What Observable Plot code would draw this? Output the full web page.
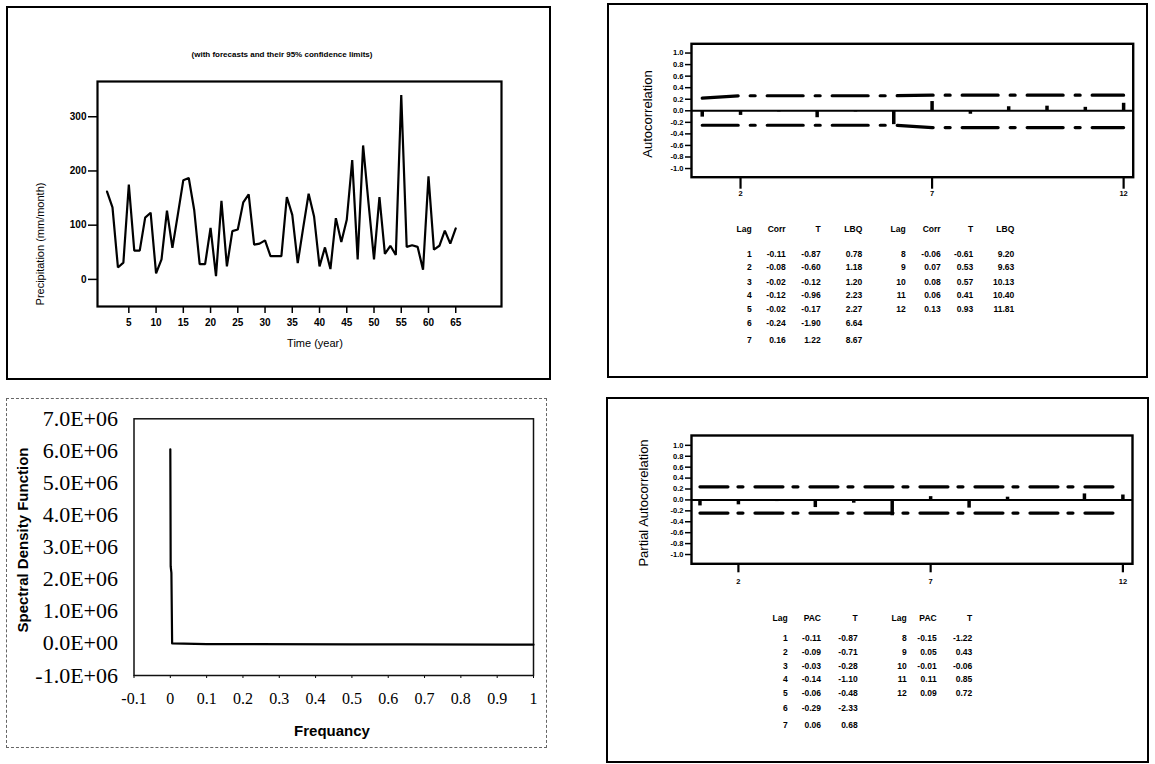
<!DOCTYPE html>
<html><head><meta charset="utf-8">
<script src="https://cdn.jsdelivr.net/npm/d3@7"></script>
<script src="https://cdn.jsdelivr.net/npm/@observablehq/plot@0.6"></script>
<style>
body{margin:0;background:#fff;}
#root{position:relative;width:1155px;height:764px;overflow:hidden;background:#fff;font-family:"Liberation Sans",Arial,sans-serif;}
.box{position:absolute;box-sizing:border-box;}
</style></head><body><div id="root"></div>
<script>
// ---------- data ----------
const years = d3.range(1, 66);
const precipitation = [162,133,22,31,175,53,53,114,123,11,37,127,58,120,183,187,128,28,28,95,6,145,24,89,92,142,157,64,66,72,43,43,43,152,119,30,95,158,116,24,59,19,113,69,110,220,37,247,140,37,152,47,62,45,340,60,63,60,18,190,55,62,90,66,94];
const timeTicks = [5,10,15,20,25,30,35,40,45,50,55,60,65];
const precipTicks = [0,100,200,300];

const specFreq = [0, 0.001, 0.003, 0.005, 0.1, 0.5, 0.65, 1.0];
const specDensity = [6050000, 2400000, 2200000, 0, -20000, -30000, -30000, -40000];
const specXTicks = [-0.1,0,0.1,0.2,0.3,0.4,0.5,0.6,0.7,0.8,0.9,1];
const specXLabels = ["-0.1","0","0.1","0.2","0.3","0.4","0.5","0.6","0.7","0.8","0.9","1"];
const specYTicks = [-1e6,0,1e6,2e6,3e6,4e6,5e6,6e6,7e6];
const specYLabels = ["-1.0E+06","0.0E+00","1.0E+06","2.0E+06","3.0E+06","4.0E+06","5.0E+06","6.0E+06","7.0E+06"];

const lags = [1,2,3,4,5,6,7,8,9,10,11,12];
const acfCorr = [-0.11,-0.08,-0.02,-0.12,-0.02,-0.24,0.16,-0.06,0.07,0.08,0.06,0.13];
const acfT = [-0.87,-0.60,-0.12,-0.96,-0.17,-1.90,1.22,-0.61,0.53,0.57,0.41,0.93];
const acfLBQ = [0.78,1.18,1.20,2.23,2.27,6.64,8.67,9.20,9.63,10.13,10.40,11.81];
const acfUpper = [0.22,0.26,0.26,0.26,0.26,0.26,0.27,0.27,0.27,0.27,0.27,0.27];
const acfLower = [-0.25,-0.25,-0.25,-0.25,-0.25,-0.25,-0.29,-0.29,-0.29,-0.29,-0.29,-0.29];

const pacf = [-0.11,-0.09,-0.03,-0.14,-0.06,-0.29,0.06,-0.15,0.05,-0.01,0.11,0.09];
const pacfT = [-0.87,-0.71,-0.28,-1.10,-0.48,-2.33,0.68,-1.22,0.43,-0.06,0.85,0.72];
const pacfUpper = [0.24,0.24,0.24,0.24,0.24,0.24,0.24,0.24,0.24,0.24,0.24,0.24];
const pacfLower = [-0.24,-0.24,-0.24,-0.24,-0.24,-0.24,-0.24,-0.24,-0.24,-0.24,-0.24,-0.24];

const corrTicks = [-1.0,-0.8,-0.6,-0.4,-0.2,0.0,0.2,0.4,0.6,0.8,1.0];
const lagTicks = [2,7,12];

// ---------- helpers ----------
const root = document.getElementById("root");
const SANS = '"Liberation Sans", Arial, sans-serif';
const SERIF = '"Liberation Serif", "Times New Roman", serif';
function box(l, t, w, h, border) {
  const d = document.createElement("div");
  d.className = "box";
  d.style.cssText += `left:${l}px;top:${t}px;width:${w}px;height:${h}px;border:${border};`;
  root.appendChild(d);
}
function place(svg, l, t, w) {
  const d = document.createElement("div");
  d.style.cssText = `position:absolute;left:${l}px;top:${t}px;width:${w}px;`;
  d.appendChild(svg);
  root.appendChild(d);
}
function label(x, y, txt, o = {}) {
  const d = document.createElement("div");
  const a = o.anchor || "middle";
  const tx = a === "end" ? "-100%" : a === "start" ? "0" : "-50%";
  d.textContent = txt;
  d.style.cssText = `position:absolute;left:${x}px;top:${y}px;white-space:nowrap;line-height:1;` +
    `font-family:${o.family || SANS};font-size:${o.size || 10}px;font-weight:${o.weight || "normal"};color:#000;` +
    `transform:translate(${tx},-50%)${o.rotate ? " rotate(-90deg)" : ""};`;
  root.appendChild(d);
}

// ---------- panel borders ----------
box(6, 6, 545, 374, "2px solid #000");
box(607, 3, 541, 375, "2px solid #000");
box(6, 398, 541, 350, "1px dashed #666");
box(606, 397, 543, 366, "2px solid #000");

// ---------- panel 1: time series ----------
const p1 = Plot.plot({
  width: 544, height: 373,
  marginLeft: 90, marginTop: 74, marginRight: 50, marginBottom: 74,
  style: {background: "none", fontFamily: SANS, overflow: "visible"},
  x: {domain: [-0.75, 73.4]},
  y: {domain: [-50, 365]},
  marks: [
    Plot.axisY(precipTicks, {tickSize: 9, tickPadding: 2, fontSize: 10, fontWeight: "bold", strokeWidth: 1.5, label: null}),
    Plot.axisX(timeTicks, {tickSize: 7, tickPadding: 5, fontSize: 10, fontWeight: "bold", strokeWidth: 1.5, label: null}),
    Plot.line(years, {x: d => d, y: (d, i) => precipitation[i], stroke: "#000", strokeWidth: 2.2, strokeLinejoin: "miter"}),
    Plot.frame({stroke: "#000", strokeWidth: 2.2})
  ]
});
place(p1, 7, 7, 544);
label(282, 55, "(with forecasts and their 95% confidence limits)", {size: 8, weight: "bold"});
label(315, 343, "Time (year)", {size: 11});
label(40, 244, "Precipitation (mm/month)", {size: 11, rotate: true});

// ---------- panel 3: spectral density ----------
const p3 = Plot.plot({
  width: 540, height: 350,
  marginLeft: 127.5, marginTop: 20.3, marginRight: 13, marginBottom: 73,
  style: {background: "none", fontFamily: SERIF, overflow: "visible"},
  x: {domain: [-0.1, 1]},
  y: {domain: [-1e6, 7e6]},
  marks: [
    Plot.axisY(specYTicks, {tickSize: 0, tickPadding: 16, fontSize: 22, fontFamily: SERIF, tickFormat: (d, i) => specYLabels[specYTicks.indexOf(d)], label: null}),
    Plot.axisX(specXTicks, {tickSize: 3, tickPadding: 14, fontSize: 16, fontFamily: SERIF, tickFormat: d => specXLabels[specXTicks.indexOf(d)], label: null}),
    Plot.frame({stroke: "#111", strokeWidth: 1.5}),
    Plot.line(specFreq, {x: d => d, y: (d, i) => specDensity[i], stroke: "#000", strokeWidth: 2.2})
  ]
});
place(p3, 6, 398, 540);
label(332, 730, "Frequancy", {size: 15, weight: "bold"});
label(22, 540, "Spectral Density Function", {size: 15, weight: "bold", rotate: true});

// ---------- correlogram helper ----------
function correlogram(vals, upper, lower, o) {
  return Plot.plot({
    width: o.width, height: o.height,
    marginLeft: o.ml, marginTop: o.mt, marginRight: o.mr, marginBottom: o.mb,
    style: {background: "none", fontFamily: SANS, overflow: "visible"},
    x: {domain: o.xd},
    y: {domain: o.yd},
    marks: [
      Plot.axisY(corrTicks, {tickSize: 6, tickPadding: 2, fontSize: 7.5, fontWeight: "bold", strokeWidth: 1.5, tickFormat: d => d.toFixed(1), label: null}),
      Plot.axisX(lagTicks, {tickSize: o.xts, tickPadding: o.xtp, fontSize: 7.5, fontWeight: "bold", strokeWidth: 2.2, label: null}),
      Plot.ruleY([0], {stroke: "#000", strokeWidth: 2}),
      Plot.line(lags, {x: d => d, y: (d, i) => upper[i], stroke: "#000", strokeWidth: 3.2, strokeDasharray: o.dash}),
      Plot.line(lags, {x: d => d, y: (d, i) => lower[i], stroke: "#000", strokeWidth: 3.2, strokeDasharray: o.dash}),
      Plot.ruleX(lags, {x: d => d, y1: 0, y2: (d, i) => vals[i], stroke: "#000", strokeWidth: 3.5}),
      Plot.frame({stroke: "#000", strokeWidth: 2.4})
    ]
  });
}
function table(cols, rights, headerY, rowYs) {
  cols.forEach((c, j) => {
    label(rights[j], headerY, c.head, {size: 8.5, weight: "bold", anchor: "end"});
    c.vals.forEach((v, i) => label(rights[j], rowYs[i], v, {size: 8.5, weight: "bold", anchor: "end"}));
  });
}

// ---------- panel 2: ACF ----------
const p2 = correlogram(acfCorr, acfUpper, acfLower, {
  width: 541, height: 375, ml: 84, mt: 40.3, mr: 15.3, mb: 201.3,
  xd: [0.72, 12.25], yd: [-1.15, 1.16], xts: 12, xtp: 1.5, dash: "36,12,5,12"
});
place(p2, 607, 3, 541);
label(647, 114, "Autocorrelation", {size: 13, rotate: true});
const f2 = v => v.toFixed(2);
const rowsA = [254, 267.3, 281.7, 295.3, 309.3, 323.3, 340];
table([
  {head: "Lag", vals: lags.slice(0, 7).map(String)},
  {head: "Corr", vals: acfCorr.slice(0, 7).map(f2)},
  {head: "T", vals: acfT.slice(0, 7).map(f2)},
  {head: "LBQ", vals: acfLBQ.slice(0, 7).map(f2)},
  {head: "Lag", vals: lags.slice(7).map(String)},
  {head: "Corr", vals: acfCorr.slice(7).map(f2)},
  {head: "T", vals: acfT.slice(7).map(f2)},
  {head: "LBQ", vals: acfLBQ.slice(7).map(f2)}
], [751.7, 785.7, 820.7, 862.3, 905.7, 940.7, 973.3, 1014.3], 229.3, rowsA);

// ---------- panel 4: PACF ----------
const p4 = correlogram(pacf, pacfUpper, pacfLower, {
  width: 543, height: 366, ml: 85, mt: 38, mr: 17, mb: 199.7,
  xd: [0.78, 12.25], yd: [-1.17, 1.18], xts: 9, xtp: 6, dash: "28,10,5,12"
});
place(p4, 606, 397, 543);
label(643, 502.5, "Partial Autocorrelation", {size: 13, rotate: true});
const rowsP = [638.3, 651.7, 665.7, 679, 693.3, 707.7, 725];
table([
  {head: "Lag", vals: lags.slice(0, 7).map(String)},
  {head: "PAC", vals: pacf.slice(0, 7).map(f2)},
  {head: "T", vals: pacfT.slice(0, 7).map(f2)},
  {head: "Lag", vals: lags.slice(7).map(String)},
  {head: "PAC", vals: pacf.slice(7).map(f2)},
  {head: "T", vals: pacfT.slice(7).map(f2)}
], [787.7, 821, 857.7, 906.7, 936.7, 972.3], 617.7, rowsP);
</script></body></html>
